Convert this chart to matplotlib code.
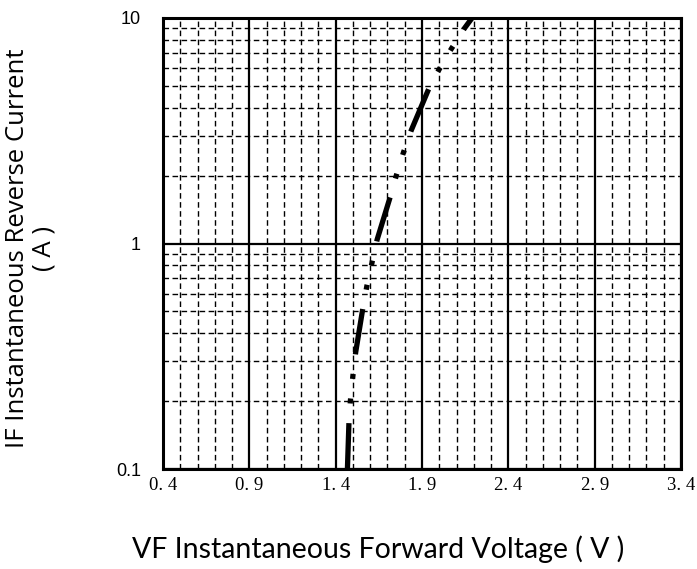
import numpy as np
import matplotlib.pyplot as plt
from matplotlib.ticker import FixedLocator, NullFormatter

# Forward characteristic
vf = [1.468, 1.477, 1.485, 1.50, 1.516, 1.558, 1.581, 1.61, 1.64,
      1.716, 1.751, 1.793, 1.838, 1.94, 2.0, 2.07, 2.146, 2.19]
i_f = [0.1, 0.162, 0.2, 0.26, 0.33, 0.52, 0.65, 0.82, 1.04,
       1.61, 2.0, 2.54, 3.18, 4.87, 5.93, 7.3, 9.0, 10.0]

xticks = [0.4, 0.9, 1.4, 1.9, 2.4, 2.9, 3.4]
xtick_labels = ["0. 4", "0. 9", "1. 4", "1. 9", "2. 4", "2. 9", "3. 4"]
yticks = [0.1, 1, 10]
ytick_labels = ["0.1", "1", "10"]

fig = plt.figure(figsize=(6.97, 5.69), dpi=100)
ax = fig.add_axes([0.2339, 0.1757, 0.9770 - 0.2339, 0.9684 - 0.1757])

ax.set_yscale("log")
ax.set_xlim(0.4, 3.4)
ax.set_ylim(0.1, 10)

# grid: solid majors, dashed minors
ax.xaxis.set_major_locator(FixedLocator(xticks))
ax.xaxis.set_minor_locator(FixedLocator(np.arange(0.4, 3.41, 0.1)))
ax.yaxis.set_major_locator(FixedLocator(yticks))
ax.yaxis.set_minor_locator(FixedLocator([m * d for d in (0.1, 1) for m in range(2, 10)]))
ax.yaxis.set_minor_formatter(NullFormatter())
ax.grid(True, which="major", color="black", linewidth=1.6, linestyle="-")
ax.grid(True, which="minor", color="black", linewidth=1.0, linestyle=(0, (4, 2.5)))
ax.set_axisbelow(True)

for s in ax.spines.values():
    s.set_linewidth(2.2)

ax.plot(vf, i_f, color="black", linewidth=3.8,
        linestyle=(0, (8.7, 3.73, 0.95, 3.73, 0.95, 3.73)), dash_capstyle="butt")

ax.set_xticks(xticks)
ax.set_xticklabels(xtick_labels, fontfamily="Liberation Serif", fontsize=13.5)
ax.set_yticks(yticks)
ax.set_yticklabels(ytick_labels, fontfamily="Liberation Sans", fontsize=13)
ax.tick_params(which="both", length=0)
ax.tick_params(axis="x", pad=6)
ax.tick_params(axis="y", pad=16)

ax.set_xlabel("VF Instantaneous Forward Voltage ( V )", fontfamily="Lato", fontsize=20.5)
ax.xaxis.set_label_coords(0.415, -0.148)
ax.set_ylabel("IF Instantaneous Reverse Current\n( A )", fontfamily="Open Sans", fontsize=18.5,
              linespacing=1.1)
ax.yaxis.set_label_coords(-0.205, 0.49)

plt.savefig("out.png", dpi=100)
